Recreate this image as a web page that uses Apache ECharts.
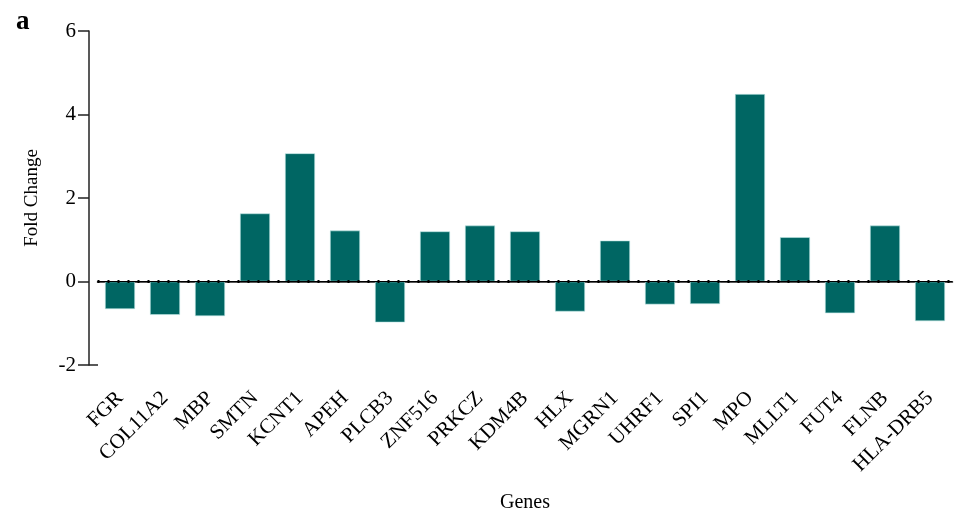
<!DOCTYPE html>
<html>
<head>
<meta charset="utf-8">
<script src="https://cdn.jsdelivr.net/npm/echarts@6/dist/echarts.min.js"></script>
<style>
html,body{margin:0;padding:0;background:#fff;}
#graphic{width:958px;height:518px;}
</style>
</head>
<body>
<div id="graphic"></div>
<script>
// 基因名称
var genes = ['FGR','COL11A2','MBP','SMTN','KCNT1','APEH','PLCB3','ZNF516','PRKCZ','KDM4B',
             'HLX','MGRN1','UHRF1','SPI1','MPO','MLLT1','FUT4','FLNB','HLA-DRB5'];
// 倍数变化
var foldChange = [-0.66,-0.80,-0.83,1.63,3.07,1.22,-0.98,1.20,1.34,1.20,
                  -0.72,0.98,-0.55,-0.54,4.49,1.06,-0.76,1.34,-0.95];
var yTicks = [-2, 0, 2, 4, 6];

var font = 'Liberation Serif';
var barColor = '#006663';

function getOption(){
    var option = {
        animation: false,
        grid: {left: 97.5, right: 5.5, top: 31, bottom: 153},
        title: {text: 'a', left: 11, top: 4,
            textStyle: {fontFamily: font, fontSize: 27, fontWeight: 'bold', color: '#000'}},
        xAxis: [{
            type: 'category', data: genes,
            name: 'Genes', nameLocation: 'middle', nameGap: 128,
            nameTextStyle: {fontFamily: font, fontSize: 20, color: '#000'},
            axisLine: {lineStyle: {color: '#222', width: 1.5}},
            axisTick: {alignWithLabel: true, length: 8, lineStyle: {color: '#222', width: 1.5}},
            axisLabel: {rotate: 45, fontFamily: font, fontSize: 21, color: '#000', margin: 30, interval: 0}
        }],
        yAxis: [{
            type: 'value', min: yTicks[0], max: yTicks[yTicks.length-1], interval: 2,
            offset: 8.5,
            name: 'Fold Change', nameLocation: 'middle', nameGap: 47,
            nameTextStyle: {fontFamily: font, fontSize: 19, color: '#000'},
            axisLine: {show: true, lineStyle: {color: '#222', width: 1.5}},
            axisTick: {show: true, length: 11, lineStyle: {color: '#222', width: 1.5}},
            axisLabel: {fontFamily: font, fontSize: 21, color: '#000', margin: 13},
            splitLine: {show: false}
        }],
        series: [{
            type: 'bar', data: foldChange, barWidth: 30,
            itemStyle: {color: barColor, borderColor: '#bfe8e6', borderWidth: 0.6},
            markLine: {
                symbol: 'none', silent: true, label: {show: false},
                data: [
                    {yAxis: 0, lineStyle: {color: '#000', width: 1.2, type: 'solid'}},
                    {yAxis: 0, lineStyle: {color: '#000', width: 3, type: [2, 8]}}
                ]
            }
        }]
    };
    return option;
}

var graphic = echarts.init(document.getElementById('graphic'));
graphic.setOption(getOption());

// x轴线补到y轴处
var p0 = graphic.convertToPixel({gridIndex: 0}, [0, yTicks[0]]);
graphic.setOption({
    graphic: [{
        type: 'line', silent: true,
        shape: {x1: 89, y1: p0[1], x2: 98, y2: p0[1]},
        style: {stroke: '#222', lineWidth: 1.5}
    }]
});
</script>
</body>
</html>
